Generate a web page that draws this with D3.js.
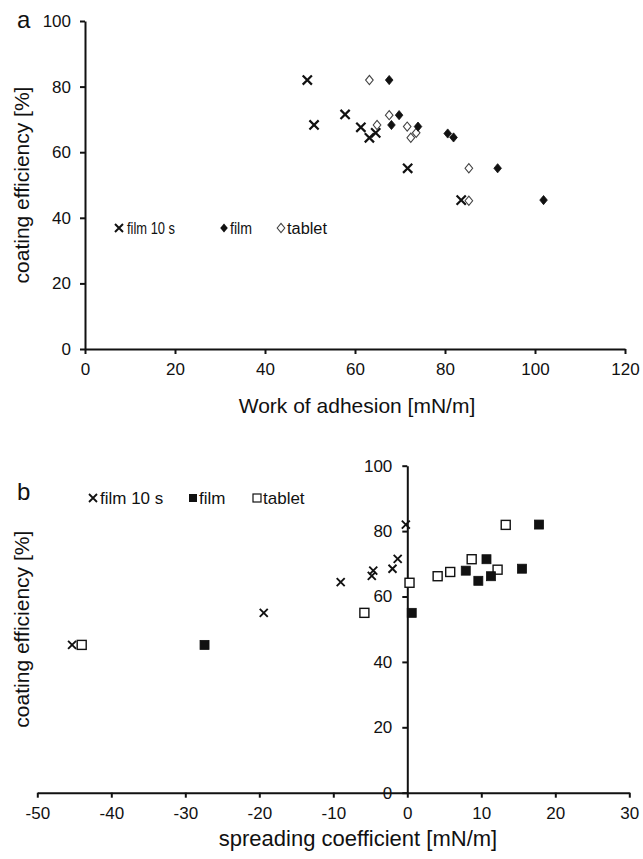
<!DOCTYPE html>
<html>
<head>
<meta charset="utf-8">
<script src="https://cdn.jsdelivr.net/npm/d3@7"></script>
<style>
  html, body { margin: 0; padding: 0; background: #fff; }
  svg { display: block; font-family: "Liberation Sans", Arial, Helvetica, sans-serif; }
</style>
</head>
<body>
<svg id="chart" width="643" height="859"></svg>
<script>
// Panel a: coating efficiency vs work of adhesion
const adhFilm10s = [49.4, 57.8, 50.9, 61.3, 64.6, 63.2, 71.7, 83.6];
const effFilm10sA = [82.0, 71.5, 68.3, 67.6, 65.9, 64.4, 55.1, 45.4];
const adhFilm = [67.6, 69.8, 68.1, 74.0, 80.6, 81.9, 91.7, 101.9];
const effFilmA = [82.0, 71.3, 68.3, 67.8, 65.7, 64.5, 55.1, 45.4];
const adhTablet = [63.2, 67.6, 64.9, 71.6, 73.6, 72.4, 85.3, 85.3];
const effTabletA = [82.0, 71.3, 68.3, 67.8, 65.9, 64.4, 55.1, 45.2];

// Panel b: coating efficiency vs spreading coefficient
const sprFilm10s = [-0.2, -1.3, -2.0, -4.6, -4.8, -9.0, -19.4, -45.3];
const effFilm10sB = [82.0, 71.5, 68.5, 67.9, 66.3, 64.4, 55.0, 45.2];
const sprFilm = [17.8, 10.7, 7.9, 15.5, 11.3, 9.6, 0.6, -27.4];
const effFilmB = [82.0, 71.4, 67.9, 68.5, 66.2, 64.8, 55.0, 45.2];
const sprTablet = [13.3, 8.7, 12.2, 5.8, 4.1, 0.3, -5.8, -44.0];
const effTabletB = [81.9, 71.4, 68.2, 67.5, 66.2, 64.2, 55.0, 45.2];

const ticksA_x = [0, 20, 40, 60, 80, 100, 120];
const ticksA_y = [0, 20, 40, 60, 80, 100];
const ticksB_x = [-50, -40, -30, -20, -10, 0, 10, 20, 30];
const ticksB_y = [0, 20, 40, 60, 80, 100];

const legendLabels = ["film 10 s", "film", "tablet"];

const svg = d3.select("#chart");

function zip(xs, ys) { return xs.map((x, i) => ({ x, y: ys[i] })); }
const plain = d => String(d);   // ASCII hyphen for negatives

// marker painters
function drawCross(g, pts, x, y, r, w) {
  g.selectAll(null).data(pts).join("path")
    .attr("d", d => {
      const cx = x(d.x), cy = y(d.y);
      return `M${cx - r},${cy - r}L${cx + r},${cy + r}M${cx - r},${cy + r}L${cx + r},${cy - r}`;
    })
    .attr("stroke", "#111").attr("stroke-width", w).attr("fill", "none");
}
function drawDiamond(g, pts, x, y, filled) {
  g.selectAll(null).data(pts).join("path")
    .attr("d", d => {
      const cx = x(d.x), cy = y(d.y);
      return `M${cx},${cy - 4.6}L${cx + 3.8},${cy}L${cx},${cy + 4.6}L${cx - 3.8},${cy}Z`;
    })
    .attr("fill", filled ? "#111" : "#fff")
    .attr("stroke", filled ? "#111" : "#444")
    .attr("stroke-width", filled ? 0.8 : 1.1);
}
function drawSquare(g, pts, x, y, filled) {
  const s = 9;
  g.selectAll(null).data(pts).join("rect")
    .attr("x", d => x(d.x) - s / 2).attr("y", d => y(d.y) - s / 2)
    .attr("width", s).attr("height", s)
    .attr("fill", filled ? "#111" : "#fff")
    .attr("stroke", "#111").attr("stroke-width", filled ? 0.8 : 1.4);
}

function styleAxis(g) {
  g.selectAll(".domain").attr("stroke", "#111").attr("stroke-width", 2);
  g.selectAll(".tick line").attr("stroke", "#111").attr("stroke-width", 2);
  g.selectAll(".tick text").attr("fill", "#111")
    .attr("font-size", 17).attr("font-family", "Liberation Sans, Arial, sans-serif");
}

// ---------- Panel a ----------
{
  const x = d3.scaleLinear().domain([0, 120]).range([85, 625]);
  const y = d3.scaleLinear().domain([0, 100]).range([349, 21]);

  const gx = svg.append("g").attr("transform", `translate(0,${y(0)})`)
    .call(d3.axisBottom(x).tickValues(ticksA_x).tickFormat(plain).tickSize(5).tickSizeOuter(0).tickPadding(9));
  styleAxis(gx);
  const gy = svg.append("g").attr("transform", `translate(${x(0)},0)`)
    .call(d3.axisLeft(y).tickValues(ticksA_y).tickFormat(plain).tickSize(5).tickSizeOuter(0).tickPadding(9));
  styleAxis(gy);

  svg.append("text").attr("x", 357).attr("y", 413).attr("text-anchor", "middle")
    .attr("font-size", 21).attr("fill", "#111").text("Work of adhesion [mN/m]");
  svg.append("text").attr("transform", `translate(29,${(y(0) + y(100)) / 2}) rotate(-90)`)
    .attr("text-anchor", "middle").attr("font-size", 21).attr("fill", "#111")
    .text("coating efficiency [%]");
  svg.append("text").attr("x", 17).attr("y", 28).attr("font-size", 24).attr("fill", "#111").text("a");

  const pts = svg.append("g");
  drawCross(pts, zip(adhFilm10s, effFilm10sA), x, y, 4.6, 2.2);
  drawDiamond(pts, zip(adhTablet, effTabletA), x, y, false);
  drawDiamond(pts, zip(adhFilm, effFilmA), x, y, true);

  // legend
  const ly = 228;
  const lg = svg.append("g");
  lg.append("path").attr("d", `M${115},${ly - 4}L${123},${ly + 4}M${115},${ly + 4}L${123},${ly - 4}`)
    .attr("stroke", "#111").attr("stroke-width", 2);
  lg.append("path").attr("d", `M${224},${ly - 4.6}L${227.8},${ly}L${224},${ly + 4.6}L${220.2},${ly}Z`).attr("fill", "#111");
  lg.append("path").attr("d", `M${281},${ly - 4.6}L${284.8},${ly}L${281},${ly + 4.6}L${277.2},${ly}Z`)
    .attr("fill", "#fff").attr("stroke", "#444").attr("stroke-width", 1.1);
  const lx = [127, 230, 287];
  const lw = [48, 22, 40];
  lg.selectAll(null).data(legendLabels).join("text")
    .attr("x", (d, i) => lx[i]).attr("y", ly + 6)
    .attr("textLength", (d, i) => lw[i]).attr("lengthAdjust", "spacingAndGlyphs")
    .attr("font-size", 16).attr("fill", "#111").text(d => d);
}

// ---------- Panel b ----------
{
  const x = d3.scaleLinear().domain([-50, 30]).range([37.3, 629.3]);
  const y = d3.scaleLinear().domain([0, 100]).range([792.7, 465.7]);

  const gx = svg.append("g").attr("transform", `translate(0,${y(0)})`)
    .call(d3.axisBottom(x).tickValues(ticksB_x).tickFormat(plain).tickSize(5).tickSizeOuter(0).tickPadding(9));
  styleAxis(gx);
  const gy = svg.append("g").attr("transform", `translate(${x(0)},0)`)
    .call(d3.axisLeft(y).tickValues(ticksB_y).tickFormat(plain).tickSize(5).tickSizeOuter(0).tickPadding(10));
  styleAxis(gy);

  svg.append("text").attr("x", 358).attr("y", 846).attr("text-anchor", "middle")
    .attr("font-size", 22).attr("fill", "#111").text("spreading coefficient [mN/m]");
  svg.append("text").attr("transform", `translate(29,${(y(0) + y(100)) / 2}) rotate(-90)`)
    .attr("text-anchor", "middle").attr("font-size", 21).attr("fill", "#111")
    .text("coating efficiency [%]");
  svg.append("text").attr("x", 17).attr("y", 500).attr("font-size", 24).attr("fill", "#111").text("b");

  const pts = svg.append("g");
  drawCross(pts, zip(sprFilm10s, effFilm10sB), x, y, 4, 1.9);
  drawSquare(pts, zip(sprTablet, effTabletB), x, y, false);
  drawSquare(pts, zip(sprFilm, effFilmB), x, y, true);

  const ly = 498;
  const lg = svg.append("g");
  lg.append("path").attr("d", `M${89},${ly - 4}L${97},${ly + 4}M${89},${ly + 4}L${97},${ly - 4}`)
    .attr("stroke", "#111").attr("stroke-width", 1.8);
  lg.append("rect").attr("x", 193 - 4).attr("y", ly - 4).attr("width", 8).attr("height", 8).attr("fill", "#111");
  lg.append("rect").attr("x", 257 - 4).attr("y", ly - 4).attr("width", 8).attr("height", 8)
    .attr("fill", "#fff").attr("stroke", "#111").attr("stroke-width", 1.2);
  const lx = [100, 199, 263];
  lg.selectAll(null).data(legendLabels).join("text")
    .attr("x", (d, i) => lx[i]).attr("y", ly + 6)
    .attr("font-size", 17).attr("fill", "#111").text(d => d);
}
</script>
</body>
</html>
